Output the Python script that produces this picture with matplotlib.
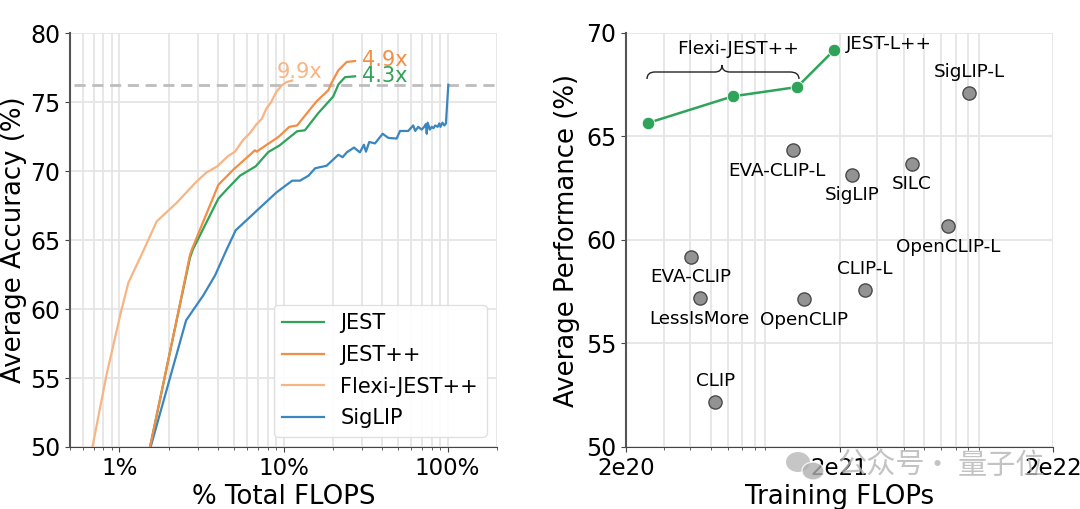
import matplotlib

matplotlib.use("Agg")
import matplotlib.pyplot as plt  # noqa: E402
from matplotlib.patches import Ellipse, PathPatch  # noqa: E402
from matplotlib.path import Path  # noqa: E402
from matplotlib.ticker import LogLocator, NullFormatter  # noqa: E402

plt.rcParams["font.family"] = ["DejaVu Sans"]

# left panel: % total flops vs accuracy
flexi_x = [0.685, 0.837, 1.023, 1.134, 1.41, 1.688, 2.235, 2.96, 3.40, 3.95, 4.57, 5.06, 5.69, 6.25,
           6.86, 7.36, 7.90, 8.35, 9.08, 9.75, 10.45, 11.3]
flexi_y = [50, 55.3, 59.8, 61.9, 64.3, 66.35, 67.7, 69.25, 69.9, 70.34, 71.06, 71.4, 72.27, 72.75,
           73.4, 73.77, 74.57, 74.93, 75.77, 76.2, 76.45, 76.55]
jestpp_x = [1.537, 2.287, 2.69, 2.76, 4.01, 4.95, 6.70, 6.86, 7.90, 9.30, 10.85, 12.1, 15.9, 18.75,
            19.65, 21.6, 24.3, 27.3]
jestpp_y = [50, 59.8, 63.9, 64.3, 69.0, 70.1, 71.5, 71.4, 71.9, 72.46, 73.2, 73.3, 75.05, 75.85,
            76.4, 77.3, 77.9, 77.97]
jest_x = [1.537, 2.29, 2.69, 2.80, 4.01, 4.50, 5.43, 6.77, 8.09, 9.43, 12.1, 13.5, 16.3, 20.1, 21.6,
          23.7, 27.3]
jest_y = [50, 59.8, 63.7, 64.3, 68.0, 68.65, 69.66, 70.34, 71.38, 71.84, 72.88, 72.95, 74.2, 75.4,
          76.27, 76.8, 76.86]
siglip_x = [1.55, 2.55, 3.25, 3.83, 4.50, 5.11, 7.54, 9.09, 11.3, 12.6, 14.2, 15.6, 18.3, 21.6, 22.9,
            24.3, 26.9, 29.2, 30.9, 31.8, 33.3, 36.1, 40.2, 43.5, 48.9, 51.3, 57.5, 61.7, 63.5, 66.2,
            69.5, 72.0, 73.8, 74.6, 75.6, 78.0, 80.0, 82.0, 84.0, 87.0, 89.0, 90.5, 93.0, 95.5, 97.7, 101]
siglip_y = [50, 59.18, 61.0, 62.44, 64.3, 65.7, 67.57, 68.46, 69.3, 69.3, 69.66, 70.2, 70.38, 71.18, 71.0,
            71.35, 71.7, 71.35, 71.9, 71.4, 72.1, 72.0, 72.7, 72.4, 72.35, 72.9, 72.9, 73.3, 72.9, 73.2,
            73.0, 73.2, 73.4, 72.7, 73.5, 73.0, 73.2, 73.1, 73.3, 73.2, 73.45, 73.2, 73.5, 73.3, 73.45, 76.25]
target_acc = 76.25
left_xticks = [1, 10, 100]
left_xticklabels = ["1%", "10%", "100%"]
left_yticks = [50, 55, 60, 65, 70, 75, 80]

# right panel: training flops vs performance
ours_x = [2.53e20, 6.32e20, 1.267e21, 1.881e21]
ours_y = [65.65, 66.94, 67.39, 69.16]
other_names = ["SigLIP-L", "EVA-CLIP-L", "SigLIP", "SILC", "OpenCLIP-L", "EVA-CLIP", "LessIsMore",
               "OpenCLIP", "CLIP-L", "CLIP"]
other_x = [8.08e21, 1.208e21, 2.30e21, 4.37e21, 6.46e21, 4.02e20, 4.43e20, 1.37e21, 2.62e21, 5.23e20]
other_y = [67.1, 64.33, 63.16, 63.66, 60.69, 59.2, 57.2, 57.14, 57.58, 52.16]
right_xticks = [2e20, 2e21, 2e22]
right_xticklabels = ["2e20", "2e21", "2e22"]
right_yticks = [50, 55, 60, 65, 70]

GREEN = "#2fa35a"
ORANGE = "#f28e45"
LIGHT = "#f8b583"
BLUE = "#3a86bf"
GRID = "#e5e5e5"
W, H = 1080, 509


def style(ax):
    ax.set_xscale("log")
    ax.grid(True, which="major", color=GRID, lw=1.3)
    ax.grid(True, which="minor", axis="x", color=GRID, lw=1.3)
    ax.set_axisbelow(True)
    ax.spines[["top", "right"]].set_visible(False)
    ax.spines["left"].set_color("#555555")
    ax.spines["left"].set_linewidth(1.5)
    ax.spines["bottom"].set_color("#444444")
    ax.xaxis.set_minor_locator(LogLocator(base=10, subs=range(2, 10), numticks=12))
    ax.xaxis.set_minor_formatter(NullFormatter())
    ax.tick_params(axis="x", which="major", labelsize=16.5, color="#444444")
    ax.tick_params(axis="y", which="major", labelsize=17, color="#444444")
    ax.tick_params(axis="x", which="minor", color="#444444")


fig = plt.figure(figsize=(W / 100, H / 100), dpi=100)
ax1 = fig.add_axes([70 / W, 1 - 447 / H, 427 / W, 414 / H])
ax2 = fig.add_axes([626 / W, 1 - 447 / H, 427 / W, 414 / H])

style(ax1)
ax1.hlines(target_acc, 0.53, 200, color="#bdbdbd", ls=(0, (4, 2.4)), lw=2, zorder=2)
ax1.plot(jest_x, jest_y, c=GREEN, lw=1.6, label="JEST", zorder=3)
ax1.plot(jestpp_x, jestpp_y, c=ORANGE, lw=1.6, label="JEST++", zorder=4)
ax1.plot(flexi_x, flexi_y, c=LIGHT, lw=1.6, label="Flexi-JEST++", zorder=3)
ax1.plot(siglip_x, siglip_y, c=BLUE, lw=1.6, label="SigLIP", zorder=3)
ax1.set_xlim(0.5, 200)
ax1.set_ylim(50, 80)
ax1.set_xticks(left_xticks)
ax1.set_xticklabels(left_xticklabels)
ax1.set_yticks(left_yticks)
ax1.set_xlabel("% Total FLOPS", fontsize=18.7, labelpad=3)
ax1.set_ylabel("Average Accuracy (%)", fontsize=18.7, labelpad=2)
ax1.annotate("4.9x", (jestpp_x[-1], jestpp_y[-1]), textcoords="offset points", xytext=(5, 1),
             va="center", fontsize=15, color=ORANGE, zorder=6)
ax1.annotate("4.3x", (jest_x[-1], jest_y[-1]), textcoords="offset points", xytext=(5, 0),
             va="center", fontsize=15, color=GREEN, zorder=6)
ax1.annotate("9.9x", (flexi_x[-1], flexi_y[-1]), textcoords="offset points", xytext=(-11, 6),
             va="center", fontsize=15, color=LIGHT, zorder=6)
ax1.legend(loc="lower right", fontsize=15, framealpha=0.9, edgecolor="#dddddd", labelspacing=0.56)

style(ax2)
ax2.plot(ours_x, ours_y, "o-", c=GREEN, lw=1.8, ms=9, mec="white", mew=0.6, zorder=4)
ax2.plot(other_x, other_y, "o", c="#939393", ms=9.5, mec="#4a4a4a", mew=1, zorder=3)
ax2.set_xlim(2e20, 2e22)
ax2.set_ylim(50, 70)
ax2.set_xticks(right_xticks)
ax2.set_xticklabels(right_xticklabels)
ax2.set_yticks(right_yticks)
ax2.set_xlabel("Training FLOPs", fontsize=18.7, labelpad=3)
ax2.set_ylabel("Average Performance (%)", fontsize=18.7, labelpad=4)

# label offsets in points from each point
other_offsets = [(0, 15.5), (-11.5, -15), (0, -15), (0, -14.5), (0, -15), (0, -15), (0, -15), (0, -15),
                 (0, 15.5), (0, 15.5)]
for name, x, y, off in zip(other_names, other_x, other_y, other_offsets):
    ax2.annotate(name, (x, y), textcoords="offset points", xytext=off, ha="center", va="center", fontsize=13.2)
ax2.annotate("JEST-L++", (ours_x[3], ours_y[3]), textcoords="offset points", xytext=(40, 4.5),
             ha="center", va="center", fontsize=13.2)
ax2.text((738 - 626) / 427, (447 - 48.5) / 414, "Flexi-JEST++", transform=ax2.transAxes, ha="center",
         va="center", fontsize=13.3)


# curly brace above the three flexi points, given in reference pixels
def px(x, y):
    return (x - 626) / 427, (447 - y) / 414


verts = [px(647, 79), px(647, 72), px(655, 72), px(715, 72), px(722, 72), px(722, 65), px(722, 65),
         px(722, 65), px(722, 72), px(730, 72), px(790, 72), px(799, 72), px(799, 79)]
codes = [Path.MOVETO, Path.CURVE3, Path.CURVE3, Path.LINETO, Path.CURVE3, Path.CURVE3, Path.LINETO,
         Path.LINETO, Path.CURVE3, Path.CURVE3, Path.LINETO, Path.CURVE3, Path.CURVE3]
ax2.add_patch(PathPatch(Path(verts, codes), transform=ax2.transAxes, fc="none", ec="#222222", lw=1, clip_on=False))

# reposting watermark over the lower right of the figure
for label, cx in [("公众号", 881), ("·", 937), ("量子位", 1001)]:
    fig.text(cx / W, 1 - 466 / H, label, fontsize=21, color="#b4b4b4", alpha=0.8, ha="center", va="center",
             family=["Noto Sans CJK SC", "DejaVu Sans"])
fig.add_artist(Ellipse((798 / W, 1 - 462 / H), 24 / W, 20 / H, transform=fig.transFigure, fc="#b8b8b8", ec="none", alpha=0.8))
fig.add_artist(Ellipse((813 / W, 1 - 471 / H), 22 / W, 18 / H, transform=fig.transFigure, fc="#b0b0b0", ec="white", lw=1, alpha=0.8))

fig.savefig("out.png", dpi=100)
